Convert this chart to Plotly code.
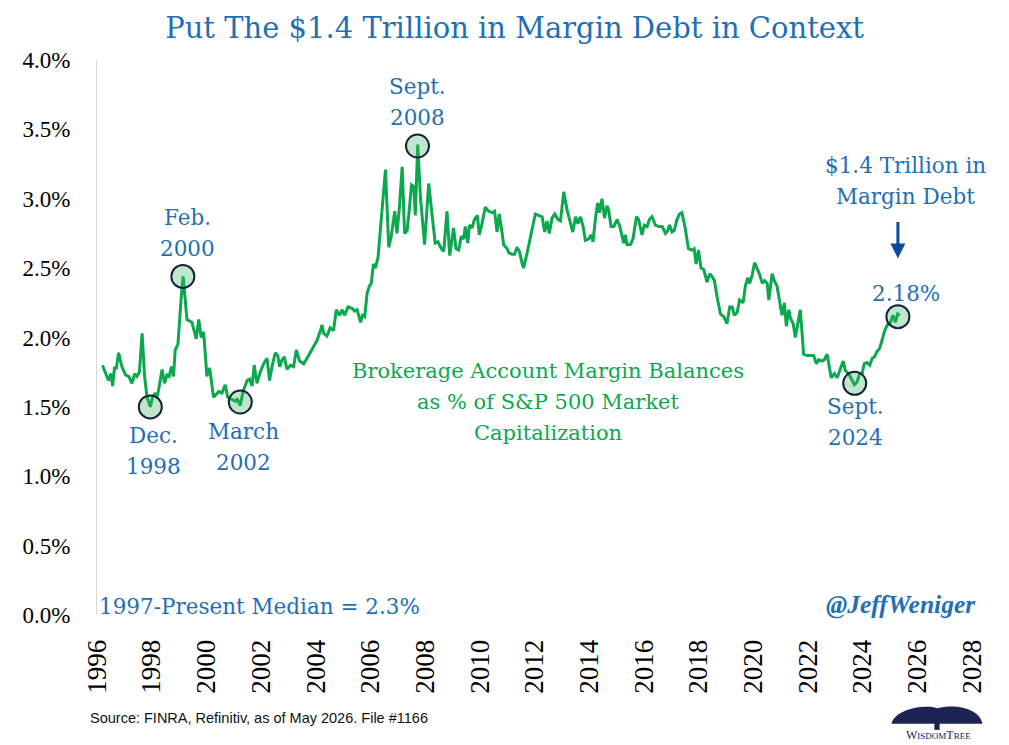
import plotly.graph_objects as go

# ---- data (fractional year, % of S&P 500 market cap) ----
years = [1996.20, 1996.42, 1996.51, 1996.57, 1996.64, 1996.71, 1996.79, 1996.91, 1997.04, 1997.16,
         1997.28, 1997.38, 1997.46, 1997.55, 1997.65, 1997.74, 1997.83, 1997.95, 1998.03, 1998.13,
         1998.19, 1998.25, 1998.38, 1998.47, 1998.56, 1998.64, 1998.72, 1998.80, 1998.86, 1998.96,
         1999.08, 1999.15, 1999.29, 1999.47, 1999.63, 1999.72, 1999.81, 1999.90, 2000.02, 2000.12,
         2000.26, 2000.45, 2000.57, 2000.69, 2000.78, 2000.94, 2001.06, 2001.12, 2001.24, 2001.34,
         2001.49, 2001.58, 2001.67, 2001.75, 2001.85, 2001.97, 2002.09, 2002.22, 2002.31, 2002.40,
         2002.52, 2002.61, 2002.68, 2002.77, 2002.85, 2002.95, 2003.07, 2003.19, 2003.29, 2003.41,
         2003.56, 2003.68, 2003.80, 2003.92, 2004.05, 2004.17, 2004.23, 2004.29, 2004.41, 2004.53,
         2004.65, 2004.75, 2004.87, 2004.96, 2005.06, 2005.18, 2005.33, 2005.42, 2005.51, 2005.57,
         2005.64, 2005.71, 2005.79, 2005.88, 2005.96, 2006.03, 2006.11, 2006.18, 2006.28, 2006.36,
         2006.45, 2006.55, 2006.67, 2006.76, 2006.89, 2006.97, 2007.06, 2007.16, 2007.25, 2007.34,
         2007.42, 2007.50, 2007.58, 2007.64, 2007.73, 2007.83, 2007.98, 2008.13, 2008.25, 2008.37,
         2008.47, 2008.59, 2008.68, 2008.80, 2008.90, 2009.04, 2009.13, 2009.23, 2009.32, 2009.41,
         2009.47, 2009.56, 2009.62, 2009.72, 2009.80, 2009.91, 2009.98, 2010.08, 2010.20, 2010.32,
         2010.45, 2010.54, 2010.63, 2010.71, 2010.81, 2010.87, 2011.00, 2011.06, 2011.18, 2011.27,
         2011.36, 2011.45, 2011.54, 2011.60, 2011.73, 2011.81, 2011.91, 2012.03, 2012.15, 2012.28,
         2012.37, 2012.46, 2012.54, 2012.64, 2012.74, 2012.86, 2012.95, 2013.07, 2013.19, 2013.31,
         2013.40, 2013.50, 2013.59, 2013.68, 2013.78, 2013.86, 2013.98, 2014.07, 2014.14, 2014.23,
         2014.31, 2014.38, 2014.47, 2014.56, 2014.65, 2014.71, 2014.80, 2014.90, 2015.02, 2015.12,
         2015.20, 2015.26, 2015.32, 2015.38, 2015.51, 2015.60, 2015.73, 2015.81, 2015.93, 2016.02,
         2016.12, 2016.20, 2016.30, 2016.42, 2016.54, 2016.67, 2016.79, 2016.87, 2016.94, 2017.03,
         2017.11, 2017.21, 2017.30, 2017.39, 2017.51, 2017.63, 2017.76, 2017.84, 2017.91, 2018.00,
         2018.09, 2018.19, 2018.31, 2018.41, 2018.49, 2018.58, 2018.68, 2018.80, 2018.92, 2019.04,
         2019.14, 2019.23, 2019.31, 2019.41, 2019.50, 2019.63, 2019.71, 2019.80, 2019.87, 2019.96,
         2020.05, 2020.14, 2020.24, 2020.33, 2020.41, 2020.51, 2020.57, 2020.69, 2020.77, 2020.87,
         2020.97, 2021.05, 2021.14, 2021.21, 2021.30, 2021.36, 2021.46, 2021.54, 2021.63, 2021.72,
         2021.79, 2021.84, 2021.97, 2022.09, 2022.21, 2022.31, 2022.39, 2022.52, 2022.60, 2022.70,
         2022.76, 2022.85, 2022.97, 2023.07, 2023.16, 2023.29, 2023.37, 2023.49, 2023.62, 2023.70,
         2023.80, 2023.89, 2023.98, 2024.06, 2024.16, 2024.26, 2024.35, 2024.43, 2024.53, 2024.62,
         2024.71, 2024.79, 2024.90, 2025.02, 2025.11, 2025.20, 2025.28, 2025.36]

margin_pct = [1.80, 1.69, 1.74, 1.65, 1.78, 1.78, 1.89, 1.79, 1.73, 1.72,
              1.67, 1.74, 1.72, 1.75, 2.03, 1.72, 1.57, 1.50, 1.57, 1.60,
              1.57, 1.62, 1.77, 1.67, 1.73, 1.72, 1.79, 1.72, 1.91, 1.95,
              2.29, 2.44, 2.13, 2.11, 1.99, 2.13, 2.00, 2.04, 1.72, 1.78,
              1.57, 1.61, 1.60, 1.66, 1.57, 1.55, 1.54, 1.56, 1.51, 1.61,
              1.69, 1.70, 1.65, 1.80, 1.67, 1.75, 1.81, 1.85, 1.69, 1.79,
              1.89, 1.87, 1.79, 1.84, 1.86, 1.77, 1.80, 1.79, 1.91, 1.83,
              1.81, 1.85, 1.89, 1.93, 1.98, 2.05, 2.09, 2.03, 2.01, 2.07,
              2.05, 2.20, 2.16, 2.20, 2.16, 2.22, 2.21, 2.19, 2.20, 2.16,
              2.11, 2.16, 2.15, 2.32, 2.37, 2.39, 2.53, 2.50, 2.58, 2.77,
              3.01, 3.21, 2.65, 2.73, 2.91, 2.75, 2.94, 3.23, 2.75, 2.77,
              2.92, 3.10, 3.09, 2.88, 3.39, 3.01, 2.67, 3.11, 2.89, 2.68,
              2.69, 2.64, 2.62, 2.91, 2.59, 2.79, 2.64, 2.63, 2.73, 2.71,
              2.80, 2.68, 2.81, 2.79, 2.85, 2.88, 2.74, 2.82, 2.94, 2.91,
              2.90, 2.91, 2.76, 2.89, 2.76, 2.67, 2.64, 2.61, 2.60, 2.60,
              2.65, 2.62, 2.54, 2.50, 2.61, 2.68, 2.77, 2.89, 2.88, 2.87,
              2.76, 2.84, 2.75, 2.86, 2.89, 2.85, 2.84, 3.05, 2.92, 2.82,
              2.76, 2.87, 2.82, 2.87, 2.80, 2.70, 2.71, 2.74, 2.69, 2.86,
              2.97, 2.90, 3.00, 2.86, 2.95, 2.92, 2.80, 2.80, 2.85, 2.80,
              2.74, 2.68, 2.74, 2.67, 2.67, 2.71, 2.87, 2.85, 2.74, 2.81,
              2.80, 2.85, 2.87, 2.81, 2.80, 2.80, 2.75, 2.77, 2.81, 2.76,
              2.77, 2.85, 2.89, 2.90, 2.79, 2.64, 2.63, 2.64, 2.53, 2.63,
              2.50, 2.49, 2.40, 2.46, 2.44, 2.41, 2.29, 2.17, 2.15, 2.10,
              2.22, 2.22, 2.16, 2.18, 2.27, 2.25, 2.37, 2.43, 2.39, 2.45,
              2.54, 2.50, 2.45, 2.39, 2.41, 2.39, 2.27, 2.46, 2.41, 2.37,
              2.25, 2.16, 2.25, 2.08, 2.20, 2.14, 2.10, 2.00, 2.10, 2.20,
              2.02, 1.88, 1.87, 1.87, 1.87, 1.81, 1.84, 1.83, 1.84, 1.88,
              1.81, 1.71, 1.74, 1.71, 1.76, 1.83, 1.76, 1.74, 1.69, 1.66,
              1.68, 1.74, 1.74, 1.81, 1.82, 1.80, 1.85, 1.86, 1.90, 1.92,
              1.98, 2.04, 2.09, 2.11, 2.16, 2.11, 2.17, 2.16]

# highlighted points (circles)
hl_x = [1997.95, 1999.14, 2001.24, 2007.72, 2023.71, 2025.29]
hl_y = [1.50, 2.44, 1.535, 3.38, 1.67, 2.15]

# annotation labels (blue)
lbl_text = ["Dec.<br>1998", "Feb.<br>2000", "March<br>2002", "Sept.<br>2008", "Sept.<br>2024",
            "$1.4 Trillion in<br>Margin Debt", "2.18%"]
lbl_x = [1998.06, 1999.31, 2001.35, 2007.72, 2023.73, 2025.57, 2025.60]
lbl_y = [1.18, 2.75, 1.21, 3.70, 1.39, 3.13, 2.32]

series_label = "Brokerage Account Margin Balances<br>as % of S&P 500 Market<br>Capitalization"
series_label_x, series_label_y = 2012.51, 1.535

x_ticks = list(range(1996, 2029, 2))
y_ticks = [0, 0.5, 1.0, 1.5, 2.0, 2.5, 3.0, 3.5, 4.0]
y_tick_labels = ["0.0%", "0.5%", "1.0%", "1.5%", "2.0%", "2.5%", "3.0%", "3.5%", "4.0%"]

BLUE = "#1F6FB4"
GREEN = "#0BA84E"
TICKFONT = "Liberation Serif"
TEXTFONT = "DejaVu Serif"
LINE_GAP = 31  # px between text lines, as in the reference

fig = go.Figure()
fig.add_trace(go.Scatter(x=years, y=margin_pct, mode="lines",
                         line=dict(color=GREEN, width=3), hoverinfo="skip"))
fig.add_trace(go.Scatter(x=hl_x, y=hl_y, mode="markers",
                         marker=dict(size=23, color="rgba(60,180,100,0.32)",
                                     line=dict(color="#15233A", width=2)),
                         hoverinfo="skip"))


def add_multiline(text, x, y, color, size):
    lines = text.split("<br>")
    n = len(lines)
    for i, ln in enumerate(lines):
        fig.add_annotation(x=x, y=y, text=ln, showarrow=False, xanchor="center", yanchor="middle",
                           yshift=((n - 1) / 2 - i) * LINE_GAP,
                           font=dict(family=TEXTFONT, size=size, color=color))


for t, x, y in zip(lbl_text, lbl_x, lbl_y):
    add_multiline(t, x, y, BLUE, 21.5)

add_multiline(series_label, series_label_x, series_label_y, GREEN, 21)

# arrow pointing down to the latest value
fig.add_annotation(x=2025.29, y=2.57, ax=0, ay=-38, text="", showarrow=True,
                   arrowhead=2, arrowsize=1, arrowwidth=3, arrowcolor="#0B4A9E")

fig.add_annotation(xref="paper", x=0.0, y=0.06, xanchor="left", yanchor="middle",
                   text="1997-Present Median = 2.3%", showarrow=False,
                   font=dict(family=TEXTFONT, size=21.5, color=BLUE))
fig.add_annotation(xref="paper", x=1.007, y=0.075, xanchor="right", yanchor="middle",
                   text="<b><i>@JeffWeniger</i></b>", showarrow=False,
                   font=dict(family=TICKFONT, size=25.5, color=BLUE))

fig.add_annotation(xref="paper", yref="paper", x=-0.010, y=-0.186, xanchor="left", yanchor="middle",
                   text="Source: FINRA, Refinitiv, as of May 2026. File #1166", showarrow=False,
                   font=dict(family="Liberation Sans", size=14.5, color="#111111"))

# WisdomTree logo (simplified)
fig.add_shape(type="path", xref="paper", yref="paper",
              path="M 0.908 -0.196 C 0.912 -0.170 0.945 -0.160 0.960 -0.168 "
                   "C 0.985 -0.158 1.010 -0.172 1.012 -0.196 Z",
              fillcolor="#1B2452", line=dict(width=0))
fig.add_shape(type="rect", xref="paper", yref="paper", x0=0.957, x1=0.963, y0=-0.207, y1=-0.190,
              fillcolor="#1B2452", line=dict(width=0))
fig.add_annotation(xref="paper", yref="paper", x=0.962, y=-0.216, xanchor="center", yanchor="middle",
                   text="W<span style='font-size:9px'>ISDOM</span>T<span style='font-size:9px'>REE</span>",
                   showarrow=False, font=dict(family=TICKFONT, size=12, color="#1B2452"))

fig.update_layout(
    width=1009, height=745,
    margin=dict(l=97, r=37, t=60, b=130),
    paper_bgcolor="white", plot_bgcolor="white",
    showlegend=False,
    title=dict(text="Put The $1.4 Trillion in Margin Debt in Context",
               x=0.51, xanchor="center", y=0.962, yanchor="middle",
               font=dict(family=TEXTFONT, size=29, color=BLUE)),
    xaxis=dict(range=[1996, 2028], tickvals=x_ticks, tickangle=-90,
               showgrid=False, zeroline=False, showline=False,
               ticks="outside", ticklen=13, tickcolor="rgba(0,0,0,0)",
               tickfont=dict(family=TICKFONT, size=27, color="black")),
    yaxis=dict(range=[0, 4.0], tickvals=y_ticks, ticktext=y_tick_labels,
               showgrid=False, zeroline=False, showline=True, linecolor="#D9D9D9", linewidth=1,
               ticks="outside", ticklen=21, tickcolor="rgba(0,0,0,0)",
               tickfont=dict(family=TICKFONT, size=23, color="black")),
)

fig.write_html("out.html")
